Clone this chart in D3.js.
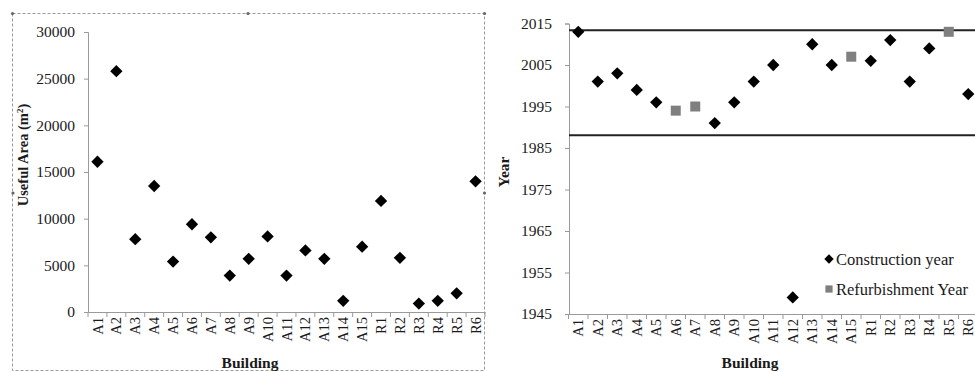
<!DOCTYPE html>
<html>
<head>
<meta charset="utf-8">
<script src="https://cdn.jsdelivr.net/npm/d3@7"></script>
<style>
  body { margin: 0; background: #fff; }
  svg { display: block; }
</style>
</head>
<body>
<script>
var buildings = ["A1","A2","A3","A4","A5","A6","A7","A8","A9","A10","A11","A12","A13","A14","A15","R1","R2","R3","R4","R5","R6"];
// useful area (m2) per building
var usefulArea = [16100, 25800, 7800, 13500, 5400, 9400, 8000, 3900, 5700, 8100, 3900, 6600, 5700, 1200, 7000, 11900, 5800, 900, 1200, 2000, 14000];
var areaTicks = [0, 5000, 10000, 15000, 20000, 25000, 30000];
// construction year (null where only the refurbishment marker shows)
var constructionYear = [2013, 2001, 2003, 1999, 1996, null, null, 1991, 1996, 2001, 2005, 1949, 2010, 2005, null, 2006, 2011, 2001, 2009, null, 1998];
var refurbYear = [null, null, null, null, null, 1994, 1995, null, null, null, null, null, null, null, 2007, null, null, null, null, 2013, null];
var yearTicks = [1945, 1955, 1965, 1975, 1985, 1995, 2005, 2015];
var limitLines = [2013.4, 1988.1];

var FONT = "'Liberation Serif', serif";
var width = 975, height = 372;
var svg = d3.select("body").append("svg").attr("width", width).attr("height", height)
  .style("font-family", FONT);

var diamond = d3.symbol().type(d3.symbolSquare).size(76);
var square = d3.symbol().type(d3.symbolSquare).size(100);

// ---------- left chart ----------
var frame = svg.append("g");
frame.append("rect")
  .attr("x", 12.5).attr("y", 13.5).attr("width", 472).attr("height", 357)
  .attr("fill", "none").attr("stroke", "#9a9a9a").attr("stroke-dasharray", "3,2");
[[12.5,13.5],[248,13.5],[484.5,13.5],[13,193],[484.5,193]].forEach(function(p) {
  frame.append("circle").attr("cx", p[0]).attr("cy", p[1]).attr("r", 1.6).attr("fill", "#666");
});

var x1 = d3.scaleBand().domain(buildings).range([88, 485]);
var y1 = d3.scaleLinear().domain([0, 30000]).range([312, 32]);

var g1 = svg.append("g");
g1.append("g").attr("transform", "translate(88,0)")
  .call(d3.axisLeft(y1).tickValues(areaTicks).tickSize(4).tickPadding(9).tickFormat(d3.format("d")))
  .call(styleAxis);
g1.selectAll(".tick text").style("font-size", "15.5px");

var xa1 = g1.append("g").attr("transform", "translate(0,312)")
  .call(d3.axisBottom(x1).tickSize(0).tickPadding(0))
  .call(styleAxis);
rotateLabels(xa1);
bandTicks(g1, x1, 312);

g1.selectAll(".pt").data(usefulArea).enter().append("path")
  .attr("class", "pt")
  .attr("d", diamond)
  .attr("transform", function(d, i) { return "translate(" + (x1(buildings[i]) + x1.bandwidth() / 2) + "," + y1(d) + ") rotate(45)"; })
  .attr("fill", "#000");

g1.append("text").attr("transform", "translate(28,155) rotate(-90)")
  .attr("text-anchor", "middle").style("font-size", "14.5px").style("font-weight", "bold")
  .attr("fill", "#1a1a1a")
  .html('Useful Area (m<tspan dy="-5" font-size="9px">2</tspan><tspan dy="5">)</tspan>');
g1.append("text").attr("x", 250).attr("y", 368).attr("text-anchor", "middle")
  .style("font-size", "15.5px").style("font-weight", "bold")
  .attr("fill", "#1a1a1a").text("Building");

// ---------- right chart ----------
var x2 = d3.scaleBand().domain(buildings).range([568.5, 568.5 + 21 * 19.5]);
var y2 = d3.scaleLinear().domain([1945, 2015]).range([314, 23.5]);

var g2 = svg.append("g");
g2.append("g").attr("transform", "translate(569,0)")
  .call(d3.axisLeft(y2).tickValues(yearTicks).tickSize(4).tickPadding(13).tickFormat(d3.format("d")))
  .call(styleAxis);
g2.selectAll(".tick text").style("font-size", "15.5px");

var xa2 = g2.append("g").attr("transform", "translate(0,314)")
  .call(d3.axisBottom(x2).tickSize(0).tickPadding(0))
  .call(styleAxis);
rotateLabels(xa2);
bandTicks(g2, x2, 314);

g2.selectAll(".limit").data(limitLines).enter().append("line")
  .attr("class", "limit")
  .attr("x1", 569).attr("x2", width)
  .attr("y1", function(d) { return y2(d); }).attr("y2", function(d) { return y2(d); })
  .attr("stroke", "#222").attr("stroke-width", 2);

constructionYear.forEach(function(d, i) {
  if (d === null) return;
  g2.append("path").attr("d", diamond)
    .attr("transform", "translate(" + (x2(buildings[i]) + x2.bandwidth() / 2) + "," + y2(d) + ") rotate(45)")
    .attr("fill", "#000");
});
refurbYear.forEach(function(d, i) {
  if (d === null) return;
  g2.append("path").attr("d", square)
    .attr("transform", "translate(" + (x2(buildings[i]) + x2.bandwidth() / 2) + "," + y2(d) + ")")
    .attr("fill", "#7f7f7f");
});

g2.append("text").attr("transform", "translate(509,172) rotate(-90)")
  .attr("text-anchor", "middle").style("font-size", "15.5px").style("font-weight", "bold")
  .attr("fill", "#1a1a1a").text("Year");
g2.append("text").attr("x", 750).attr("y", 368).attr("text-anchor", "middle")
  .style("font-size", "15.5px").style("font-weight", "bold")
  .attr("fill", "#1a1a1a").text("Building");

// legend
var leg = g2.append("g");
leg.append("path").attr("d", d3.symbol().type(d3.symbolSquare).size(44)).attr("transform", "translate(829,259) rotate(45)").attr("fill", "#000");
leg.append("text").attr("x", 836).attr("y", 265).style("font-size", "16.5px").attr("fill", "#1a1a1a").text("Construction year");
leg.append("path").attr("d", d3.symbol().type(d3.symbolSquare).size(52)).attr("transform", "translate(829,289)").attr("fill", "#7f7f7f");
leg.append("text").attr("x", 836).attr("y", 295).style("font-size", "16.5px").attr("fill", "#1a1a1a").text("Refurbishment Year");

function styleAxis(sel) {
  sel.attr("font-family", null);
  sel.select(".domain").attr("stroke", "#9a9a9a");
  sel.selectAll(".tick line").attr("stroke", "#9a9a9a");
  sel.selectAll(".tick text").attr("fill", "#1a1a1a");
}
function rotateLabels(sel) {
  sel.selectAll(".tick text")
    .attr("transform", "rotate(-90)")
    .attr("text-anchor", "end")
    .attr("x", -5).attr("y", 0).attr("dy", "0.35em")
    .style("font-size", "14.5px");
}
function bandTicks(g, x, y0) {
  var edges = buildings.map(function(b) { return x(b); }).concat([x.range()[1]]);
  g.selectAll(null).data(edges).enter().append("line")
    .attr("x1", function(d) { return d; }).attr("x2", function(d) { return d; })
    .attr("y1", y0).attr("y2", y0 + 5)
    .attr("stroke", "#9a9a9a");
}
</script>
</body>
</html>
